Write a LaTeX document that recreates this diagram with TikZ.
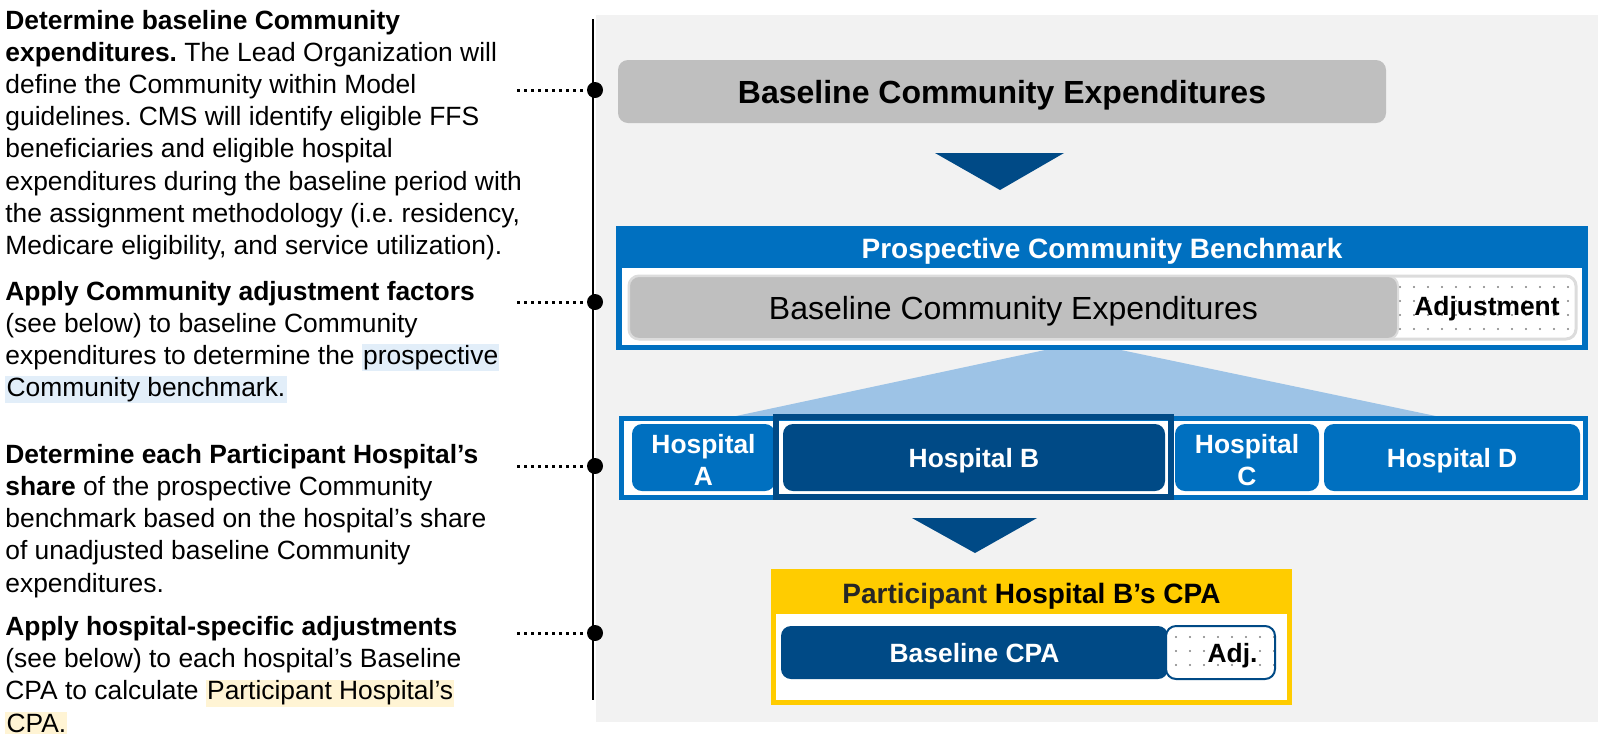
\documentclass[tikz,border=0pt]{standalone}
\usepackage{fontspec}
\setmainfont{Liberation Sans}
\usetikzlibrary{patterns.meta}
\definecolor{midblue}{HTML}{0070C0}
\definecolor{darkblue}{HTML}{004A86}
\definecolor{lightblue}{HTML}{9DC3E6}
\definecolor{boxgray}{HTML}{BFBFBF}
\definecolor{panelgray}{HTML}{F2F2F2}
\definecolor{rimgray}{HTML}{DCDCDC}
\definecolor{cpayellow}{HTML}{FFCC00}
\definecolor{titlegray}{HTML}{262626}
\definecolor{hlblue}{HTML}{E2EEF9}
\definecolor{hlyellow}{HTML}{FFF4D4}
\newcommand{\txtfont}{\fontsize{13.2}{16.1}\selectfont}
\newcommand{\hlb}[1]{{\setlength{\fboxsep}{0.6pt}\colorbox{hlblue}{#1}}}
\newcommand{\hly}[1]{{\setlength{\fboxsep}{0.6pt}\colorbox{hlyellow}{#1}}}
\frenchspacing
\begin{document}
\begin{tikzpicture}[x=0.5pt, y=-0.5pt,
  step text/.style={anchor=north west, inner sep=0pt, align=left, font=\txtfont},
  dotline/.style={line width=1.5pt, dash pattern=on 1.5pt off 2pt},
  pin dot/.style={circle, fill, inner sep=0pt, minimum size=8pt},
  hosp/.style={rounded corners=5pt, fill=midblue, text=white, font=\txtfont\bfseries, align=center, inner sep=0pt, minimum height=33.5pt, text depth=0pt},
  adjfill/.style={preaction={fill=white}, pattern={Dots[radius=0.55pt, distance=7pt]}, pattern color=gray}]
\useasboundingbox (0,0) rectangle (1598,735);
\fill[panelgray] (596,15) rectangle (1598,722);

\node[step text] (t1) at (5,9.6) {\textbf{Determine baseline Community}\\
\textbf{expenditures.} The Lead Organization will\\
define the Community within Model\\
guidelines. CMS will identify eligible FFS\\
beneficiaries and eligible hospital\\
expenditures during the baseline period with\\
the assignment methodology (i.e. residency,\\
Medicare eligibility, and service utilization).};
\node[step text] (t2) at (5,280.6) {\textbf{Apply Community adjustment factors}\\
(see below) to baseline Community\\
expenditures to determine the \hlb{prospective}\\
\hlb{Community benchmark.}};
\node[step text] (t3) at (5,443.7) {\textbf{Determine each Participant Hospital’s}\\
\textbf{share} of the prospective Community\\
benchmark based on the hospital’s share\\
of unadjusted baseline Community\\
expenditures.};
\node[step text] (t4) at (5,615.9) {\textbf{Apply hospital-specific adjustments}\\
(see below) to each hospital’s Baseline\\
CPA to calculate \hly{Participant Hospital’s}\\
\hly{CPA.}};

\coordinate (vtop) at (593,19);
\coordinate (vbot) at (593,700);
\draw[line width=0.75pt] (vtop) -- (vbot);
\coordinate (s1) at (517,90);
\coordinate (s2) at (517,302);
\coordinate (s3) at (517,466);
\coordinate (s4) at (517,633);
\node[pin dot] (d1) at (595,90){};
\node[pin dot] (d2) at (595,302){};
\node[pin dot] (d3) at (595,466){};
\node[pin dot] (d4) at (595,633){};
\draw[dotline] (s1) -- (d1);
\draw[dotline] (s2) -- (d2);
\draw[dotline] (s3) -- (d3);
\draw[dotline] (s4) -- (d4);

\node[fill=boxgray, rounded corners=5pt, minimum width=384pt, minimum height=31.5pt, inner sep=0pt, text depth=0pt, font=\fontsize{16}{19}\selectfont\bfseries] (base) at (1002,91.5) {Baseline Community Expenditures};
\fill[darkblue] (935,153) -- (1064,153) -- (1000,190) -- cycle;

\fill[lightblue] (1045,350) -- (1121,350) -- (1450,419) -- (722,419) -- cycle;
\node[fill=midblue, minimum width=486pt, minimum height=62pt, inner sep=0pt] (pcb) at (1102,288) {};
\node[text=white, text depth=0pt, font=\fontsize{14}{16}\selectfont\bfseries] (pcbtitle) at (1102,248) {Prospective Community Benchmark};
\node[fill=white, minimum width=480pt, minimum height=38.5pt, inner sep=0pt] (pcbin) at (1102,306.5) {};
\node[draw=rimgray, line width=1.5pt, rounded corners=5pt, adjfill, minimum width=473.5pt, minimum height=31.5pt, inner sep=0pt] (bar) at (1102.5,307.5) {};
\node[draw=rimgray, line width=1pt, fill=boxgray, rounded corners=5pt, minimum width=384.5pt, minimum height=31.5pt, inner sep=0pt, text depth=0pt, font=\fontsize{16}{19}\selectfont] (bce) at (1013.5,307.5) {Baseline Community Expenditures};
\node[text depth=0pt, font=\txtfont\bfseries] (adj) at (1487,306) {Adjustment};

\node[draw=midblue, line width=2.5pt, fill=white, minimum width=482pt, minimum height=39.5pt, inner sep=0pt] (row) at (1103.5,458) {};
\node[hosp, minimum width=71.5pt, text height=28pt] (hA) at (703.5,457.5) {Hospital\\A};
\node[hosp, fill=darkblue, minimum width=191pt] (hB) at (974,457.5) {Hospital B};
\node[hosp, minimum width=72pt, text height=28pt] (hC) at (1247,457.5) {Hospital\\C};
\node[hosp, minimum width=128pt] (hD) at (1452,457.5) {Hospital D};
\node[draw=darkblue, line width=3pt, minimum width=197.5pt, minimum height=40pt, inner sep=0pt] (bframe) at (973.5,457) {};

\fill[darkblue] (912,518) -- (1037,518) -- (975,553) -- cycle;

\node[fill=cpayellow, minimum width=260.5pt, minimum height=68pt, inner sep=0pt] (cpa) at (1031.5,637) {};
\node[text depth=0pt, font=\fontsize{14}{16}\selectfont\bfseries] (cpatitle) at (1031.5,593) {\textcolor{titlegray}{Participant} Hospital B’s CPA};
\node[fill=white, minimum width=255.5pt, minimum height=43pt, inner sep=0pt] (cpain) at (1031.5,657) {};
\node[fill=darkblue, rounded corners=5pt, minimum width=193.5pt, minimum height=26.5pt, inner sep=0pt, text=white, text depth=0pt, font=\txtfont\bfseries] (bcpa) at (974.5,652.5) {Baseline CPA};
\node[draw=darkblue, line width=1pt, rounded corners=5pt, adjfill, minimum width=54.5pt, minimum height=26.5pt, inner sep=0pt, text depth=0pt, font=\txtfont\bfseries] (adjcpa) at (1220.5,652.5) {\hspace*{12pt}Adj.};
\end{tikzpicture}
\end{document}
